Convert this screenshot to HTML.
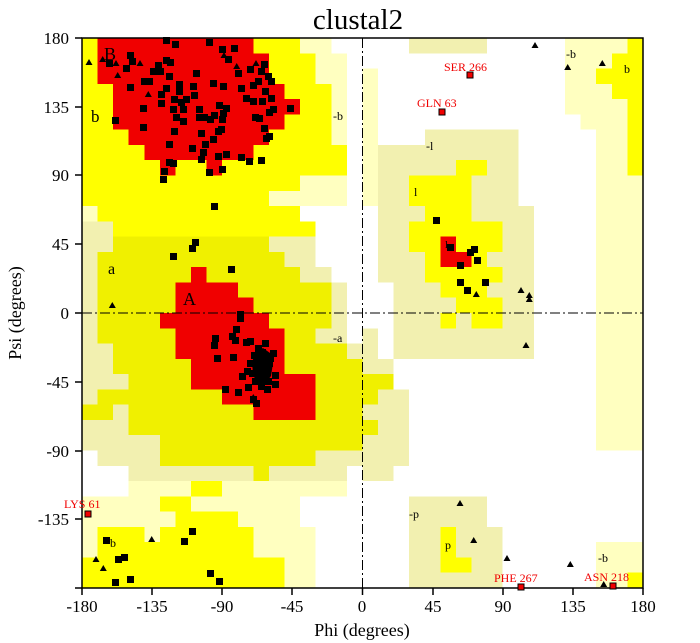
<!DOCTYPE html>
<html><head><meta charset="utf-8"><style>
html,body{margin:0;padding:0;background:#fff;width:700px;height:643px;overflow:hidden}
svg{display:block;font-family:"Liberation Serif",serif}
</style></head><body>
<svg width="700" height="643" viewBox="0 0 700 643" xmlns="http://www.w3.org/2000/svg">
<rect width="700" height="643" fill="#fff"/>
<g transform="translate(82,38) scale(1.55833,1.52778)" shape-rendering="crispEdges">
<g fill="#ffffc0">
<rect x="0" y="0" width="160" height="10"/><rect x="0" y="10" width="170" height="100"/>
<rect x="180" y="20" width="10" height="90"/>
<rect x="0" y="110" width="10" height="10"/>
<rect x="30" y="290" width="140" height="10"/><rect x="0" y="300" width="140" height="20"/><rect x="0" y="320" width="150" height="40"/>
<rect x="310" y="0" width="50" height="50"/><rect x="320" y="50" width="40" height="10"/><rect x="330" y="60" width="30" height="210"/>
<rect x="330" y="330" width="30" height="30"/>
</g>
<g fill="#f2f0b0">
<rect x="210" y="0" width="50" height="10"/>
<rect x="0" y="120" width="150" height="30"/><rect x="0" y="150" width="160" height="10"/><rect x="0" y="160" width="170" height="40"/><rect x="0" y="200" width="180" height="80"/><rect x="10" y="280" width="160" height="10"/>
<rect x="180" y="190" width="10" height="20"/><rect x="180" y="210" width="20" height="20"/><rect x="180" y="230" width="30" height="50"/><rect x="180" y="280" width="20" height="10"/>
<rect x="220" y="60" width="60" height="10"/><rect x="190" y="70" width="90" height="40"/><rect x="190" y="110" width="100" height="50"/><rect x="200" y="160" width="90" height="50"/>
<rect x="210" y="300" width="50" height="20"/><rect x="210" y="320" width="60" height="40"/>
</g>
<g fill="#fff">
<rect x="0" y="270" width="10" height="20"/><rect x="0" y="280" width="30" height="20"/>
</g>
<g fill="#ffff00">
<rect x="0" y="0" width="140" height="10"/><rect x="0" y="10" width="150" height="20"/><rect x="0" y="30" width="160" height="40"/><rect x="0" y="70" width="170" height="20"/><rect x="0" y="90" width="140" height="10"/><rect x="0" y="100" width="120" height="10"/><rect x="10" y="110" width="130" height="10"/><rect x="20" y="120" width="130" height="10"/>
<rect x="350" y="0" width="10" height="90"/><rect x="340" y="10" width="10" height="30"/><rect x="330" y="20" width="10" height="10"/>
<rect x="350" y="350" width="10" height="10"/>
<rect x="70" y="290" width="20" height="10"/><rect x="50" y="300" width="20" height="10"/><rect x="60" y="310" width="40" height="10"/><rect x="10" y="320" width="30" height="10"/><rect x="50" y="320" width="60" height="10"/><rect x="10" y="330" width="100" height="10"/><rect x="0" y="340" width="130" height="20"/>
<rect x="210" y="90" width="40" height="20"/><rect x="240" y="80" width="20" height="10"/><rect x="220" y="110" width="30" height="10"/><rect x="210" y="120" width="60" height="20"/><rect x="220" y="140" width="40" height="10"/><rect x="220" y="150" width="50" height="10"/><rect x="230" y="160" width="30" height="10"/><rect x="240" y="170" width="30" height="10"/><rect x="230" y="180" width="10" height="10"/><rect x="250" y="180" width="20" height="10"/>
<rect x="230" y="320" width="10" height="30"/><rect x="230" y="340" width="20" height="10"/>
</g>
<g fill="#f0f000">
<rect x="20" y="130" width="100" height="10"/><rect x="10" y="140" width="120" height="10"/><rect x="10" y="150" width="130" height="10"/><rect x="10" y="160" width="150" height="20"/><rect x="10" y="180" width="150" height="10"/><rect x="10" y="190" width="140" height="10"/><rect x="20" y="200" width="150" height="10"/><rect x="20" y="210" width="160" height="10"/><rect x="30" y="220" width="170" height="10"/><rect x="10" y="230" width="180" height="10"/><rect x="0" y="240" width="20" height="10"/><rect x="30" y="240" width="150" height="10"/><rect x="30" y="250" width="160" height="10"/><rect x="50" y="260" width="130" height="10"/><rect x="50" y="270" width="100" height="10"/><rect x="110" y="280" width="10" height="10"/>
</g>
<g fill="#f00000">
<polygon points="10,0 110,0 110,10 120,10 120,30 130,30 130,40 140,40 140,50 130,50 130,60 120,60 120,70 110,70 110,80 90,80 90,90 80,90 80,80 60,80 60,90 50,90 50,80 40,80 40,70 30,70 30,60 20,60 20,30 10,30"/>
<polygon points="70,150 80,150 80,160 100,160 100,170 110,170 110,180 120,180 120,190 130,190 130,220 150,220 150,250 110,250 110,240 90,240 90,230 70,230 70,210 60,210 60,190 50,190 50,180 60,180 60,160 70,160"/>
<rect x="230" y="130" width="10" height="20"/><rect x="230" y="140" width="20" height="10"/>
</g>
</g>
<g stroke="#000" stroke-width="1" stroke-dasharray="10,3,2,3" fill="none">
<line x1="362.5" y1="38" x2="362.5" y2="588"/><line x1="82" y1="313" x2="643" y2="313"/>
</g>
<rect x="82" y="38" width="561" height="550" fill="none" stroke="#000" stroke-width="1.5"/>
<g stroke="#000" stroke-width="1.5">
<line x1="82" y1="588" x2="82" y2="595"/><line x1="152" y1="588" x2="152" y2="595"/><line x1="222" y1="588" x2="222" y2="595"/><line x1="292" y1="588" x2="292" y2="595"/><line x1="362.5" y1="588" x2="362.5" y2="595"/><line x1="433" y1="588" x2="433" y2="595"/><line x1="503" y1="588" x2="503" y2="595"/><line x1="573" y1="588" x2="573" y2="595"/><line x1="643" y1="588" x2="643" y2="595"/>
<line x1="75" y1="38" x2="82" y2="38"/><line x1="75" y1="107" x2="82" y2="107"/><line x1="75" y1="175" x2="82" y2="175"/><line x1="75" y1="244" x2="82" y2="244"/><line x1="75" y1="313" x2="82" y2="313"/><line x1="75" y1="382" x2="82" y2="382"/><line x1="75" y1="451" x2="82" y2="451"/><line x1="75" y1="519" x2="82" y2="519"/><line x1="75" y1="588" x2="82" y2="588"/>
</g>
<path fill="#000" d="M163 37h7v7h-7zM172 41h7v7h-7zM206 39h7v7h-7zM219 46h7v7h-7zM231 45h7v7h-7zM127 52h7v7h-7zM129 58h7v7h-7zM225 56h7v7h-7zM106 60h7v7h-7zM123 65h7v7h-7zM155 62h7v7h-7zM150 68h7v7h-7zM157 68h7v7h-7zM163 57h7v7h-7zM167 59h7v7h-7zM193 70h7v7h-7zM235 70h7v7h-7zM247 66h7v7h-7zM261 61h7v7h-7zM258 68h7v7h-7zM265 73h7v7h-7zM268 78h7v7h-7zM166 73h7v7h-7zM176 81h7v7h-7zM190 83h7v7h-7zM210 80h7v7h-7zM220 83h7v7h-7zM127 84h7v7h-7zM146 78h7v7h-7zM141 78h7v7h-7zM238 85h7v7h-7zM250 82h7v7h-7zM255 78h7v7h-7zM262 88h7v7h-7zM259 98h7v7h-7zM268 95h7v7h-7zM270 106h7v7h-7zM266 109h7v7h-7zM287 105h7v7h-7zM158 91h7v7h-7zM163 85h7v7h-7zM176 88h7v7h-7zM183 96h7v7h-7zM191 92h7v7h-7zM178 99h7v7h-7zM171 96h7v7h-7zM158 100h7v7h-7zM140 105h7v7h-7zM180 106h7v7h-7zM196 106h7v7h-7zM216 102h7v7h-7zM223 105h7v7h-7zM220 110h7v7h-7zM211 112h7v7h-7zM207 116h7v7h-7zM201 114h7v7h-7zM196 114h7v7h-7zM180 118h7v7h-7zM173 114h7v7h-7zM170 106h7v7h-7zM219 116h7v7h-7zM243 95h7v7h-7zM250 98h7v7h-7zM252 114h7v7h-7zM256 115h7v7h-7zM112 117h7v7h-7zM140 124h7v7h-7zM171 128h7v7h-7zM198 130h7v7h-7zM218 126h7v7h-7zM215 128h7v7h-7zM210 136h7v7h-7zM202 141h7v7h-7zM261 125h7v7h-7zM263 135h7v7h-7zM266 133h7v7h-7zM166 141h7v7h-7zM189 145h7v7h-7zM215 153h7v7h-7zM223 151h7v7h-7zM200 149h7v7h-7zM198 156h7v7h-7zM238 154h7v7h-7zM246 158h7v7h-7zM258 157h7v7h-7zM166 159h7v7h-7zM170 160h7v7h-7zM219 166h7v7h-7zM206 169h7v7h-7zM161 168h7v7h-7zM160 176h7v7h-7zM211 203h7v7h-7zM192 239h7v7h-7zM189 245h7v7h-7zM170 253h7v7h-7zM228 266h7v7h-7zM237 311h7v7h-7zM237 315h7v7h-7zM233 326h7v7h-7zM212 335h7v7h-7zM229 333h7v7h-7zM232 337h7v7h-7zM247 338h7v7h-7zM211 342h7v7h-7zM214 355h7v7h-7zM230 354h7v7h-7zM239 373h7v7h-7zM222 386h7v7h-7zM235 389h7v7h-7zM245 384h7v7h-7zM264 386h7v7h-7zM272 381h7v7h-7zM253 400h7v7h-7zM250 396h7v7h-7zM189 528h7v7h-7zM181 538h7v7h-7zM103 537h7v7h-7zM121 554h7v7h-7zM115 556h7v7h-7zM127 576h7v7h-7zM112 579h7v7h-7zM207 570h7v7h-7zM216 578h7v7h-7zM433 217h7v7h-7zM447 244h7v7h-7zM471 246h7v7h-7zM467 249h7v7h-7zM474 257h7v7h-7zM457 262h7v7h-7zM457 279h7v7h-7zM482 279h7v7h-7zM464 287h7v7h-7zM243 339h7v7h-7zM255 345h7v7h-7zM262 340h7v7h-7zM270 350h7v7h-7zM247 360h7v7h-7zM244 368h7v7h-7zM272 372h7v7h-7zM266 360h7v7h-7zM251 352h7v7h-7zM259 349h7v7h-7zM267 355h7v7h-7zM252 378h7v7h-7zM258 383h7v7h-7zM265 378h7v7h-7zM249 370h7v7h-7z"/>
<polygon fill="#000" points="256,352 263,348 270,353 273,363 271,376 265,384 257,384 253,374 252,362"/>
<path fill="#000" d="M89 59l3.5 6h-7zM102.7 56l3.5 6h-7zM116 60l3.5 6h-7zM140 60l3.5 6h-7zM117.7 72l3.5 6h-7zM148.3 91l3.5 6h-7zM236.7 63l3.5 6h-7zM256 60l3.5 6h-7zM224 52l3.5 6h-7zM112.3 302l3.5 6h-7zM151.7 536l3.5 6h-7zM96 556l3.5 6h-7zM103.3 565l3.5 6h-7zM253.3 394l3.5 6h-7zM535 42l3.5 6h-7zM567.7 64l3.5 6h-7zM602.3 60l3.5 6h-7zM476.3 291l3.5 6h-7zM521 287l3.5 6h-7zM529.3 292l3.5 6h-7zM529.3 296l3.5 6h-7zM526 342l3.5 6h-7zM460 500l3.5 6h-7zM473.7 537l3.5 6h-7zM507 555l3.5 6h-7zM570.3 561l3.5 6h-7zM603.7 581l3.5 6h-7z"/>
<g fill="#f00000" stroke="#000" stroke-width="1">
<rect x="467" y="72" width="6" height="6"/><rect x="439" y="109" width="6" height="6"/><rect x="85" y="511" width="6" height="6"/><rect x="518" y="584" width="6" height="6"/><rect x="610" y="583" width="6" height="6"/>
</g>
<g fill="#f00000" font-size="12">
<text x="444" y="71">SER 266</text><text x="417" y="107">GLN 63</text><text x="64" y="508">LYS 61</text><text x="494" y="582">PHE 267</text><text x="584" y="581">ASN 218</text>
</g>
<g fill="#000">
<text x="104" y="60" font-size="18">B</text><text x="91" y="122" font-size="17">b</text><text x="108" y="274" font-size="16">a</text><text x="183" y="305" font-size="18">A</text>
<text x="333" y="120" font-size="12">-b</text><text x="333" y="342" font-size="12">-a</text><text x="426" y="150" font-size="12">-l</text><text x="414" y="196" font-size="12">l</text><text x="445" y="248" font-size="11">l</text>
<text x="566" y="58" font-size="12">-b</text><text x="624" y="73" font-size="12">b</text><text x="409" y="518" font-size="12">-p</text><text x="445" y="549" font-size="12">p</text><text x="598" y="562" font-size="12">-b</text><text x="110" y="547" font-size="12">b</text>
</g>
<text x="358" y="29" font-size="29" text-anchor="middle">clustal2</text>
<g font-size="17" text-anchor="middle">
<text x="82" y="612">-180</text><text x="152" y="612">-135</text><text x="222" y="612">-90</text><text x="292" y="612">-45</text><text x="362" y="612">0</text><text x="433" y="612">45</text><text x="503" y="612">90</text><text x="573" y="612">135</text><text x="643" y="612">180</text>
</g>
<g font-size="17" text-anchor="end">
<text x="69" y="44">180</text><text x="69" y="113">135</text><text x="69" y="181">90</text><text x="69" y="250">45</text><text x="69" y="319">0</text><text x="69" y="388">-45</text><text x="69" y="457">-90</text><text x="69" y="525">-135</text>
</g>
<text x="362" y="636" font-size="18" text-anchor="middle">Phi (degrees)</text>
<text transform="translate(21,313) rotate(-90)" font-size="18" text-anchor="middle">Psi (degrees)</text>
</svg>
</body></html>
